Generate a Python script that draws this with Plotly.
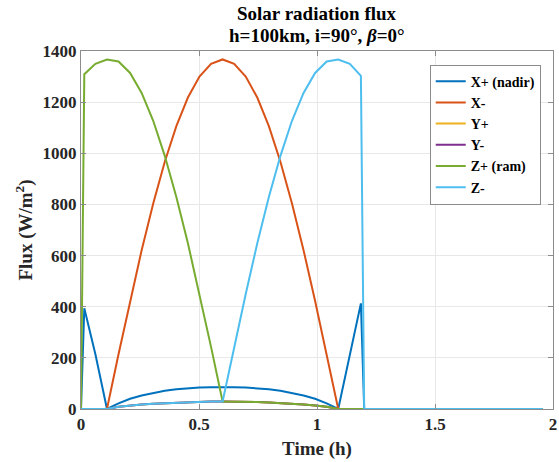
import plotly.graph_objects as go

# Time samples (h)
time_h = [0.0, 0.014, 0.061, 0.11, 0.159, 0.208, 0.257, 0.306, 0.355, 0.404,
          0.453, 0.502, 0.551, 0.6, 0.649, 0.698, 0.747, 0.796, 0.845, 0.894,
          0.943, 0.992, 1.041, 1.09, 1.139, 1.186, 1.2, 1.957]

# Flux values (W/m^2) per face
x_plus = [0, 394, 214, 0, 22, 40, 53, 63, 71, 77, 81, 84, 85, 86, 85, 84, 81, 77,
          71, 63, 53, 40, 22, 0, 214, 413, 0, 0]
x_minus = [0, 0, 0, 0, 214, 422, 621, 804, 967, 1106, 1218, 1300, 1350, 1367, 1350,
           1300, 1218, 1106, 967, 804, 621, 422, 214, 0, 0, 0, 0, 0]
y_plus = [0, 0, 0, 0, 9, 14, 18, 21, 23, 25, 27, 28, 29, 29, 29, 28, 27, 25, 23, 21,
          18, 14, 9, 0, 0, 0, 0, 0]
y_minus = [0, 0, 0, 0, 9, 14, 18, 21, 23, 25, 27, 28, 29, 29, 29, 28, 27, 25, 23, 21,
           18, 14, 9, 0, 0, 0, 0, 0]
z_plus = [0, 1309, 1350, 1367, 1359, 1314, 1236, 1127, 990, 829, 648, 450, 243, 29,
          29, 28, 27, 25, 23, 21, 18, 14, 9, 0, 0, 0, 0, 0]
z_minus = [0, 0, 0, 0, 9, 14, 18, 21, 23, 25, 27, 28, 29, 29, 243, 450, 648, 829, 990,
           1127, 1236, 1314, 1359, 1367, 1350, 1303, 0, 0]

series_names = ["X+ (nadir)", "X-", "Y+", "Y-", "Z+ (ram)", "Z-"]
series_values = [x_plus, x_minus, y_plus, y_minus, z_plus, z_minus]
series_colors = ["#0072BD", "#D95319", "#EDB120", "#7E2F8E", "#77AC30", "#4DBEEE"]

x_ticks = [0, 0.5, 1, 1.5, 2]
x_tick_labels = ["0", "0.5", "1", "1.5", "2"]
y_ticks = [0, 200, 400, 600, 800, 1000, 1200, 1400]

title_lines = ["Solar radiation flux", "h=100km, i=90°, <i>β</i>=0°"]

FONT = "Liberation Serif"

fig = go.Figure()
for name, vals, col in zip(series_names, series_values, series_colors):
    fig.add_trace(go.Scatter(x=time_h, y=vals, mode="lines", name=name,
                             line=dict(color=col, width=2)))

axis_common = dict(
    showline=True, linecolor="#8c8c8c", linewidth=1, mirror="ticks",
    ticks="inside", ticklen=5, tickcolor="#8c8c8c",
    showgrid=True, gridcolor="#e8e8e8", gridwidth=1, zeroline=False,
    automargin=False,
    tickfont=dict(family=FONT, size=17, color="#262626", weight="bold"),
)

# plot area: px 81..553 horizontally, 51..409 vertically
title_y = [(409 - 14) / 358, (409 - 35) / 358]
for txt, yy in zip(title_lines, title_y):
    fig.add_annotation(text="<b>" + txt + "</b>", xref="paper", yref="paper",
                       x=0.5, y=yy, xanchor="center", yanchor="middle",
                       showarrow=False,
                       font=dict(family=FONT, size=19, color="black"))

fig.update_layout(
    width=559, height=462,
    margin=dict(l=81, r=6, t=51, b=53, autoexpand=False),
    paper_bgcolor="white", plot_bgcolor="white",
    xaxis=dict(
        range=[0, 2], tickvals=x_ticks, ticktext=x_tick_labels,
        title=dict(text="Time (h)", standoff=8,
                   font=dict(family=FONT, size=19, color="#262626", weight="bold")),
        **axis_common,
    ),
    yaxis=dict(
        range=[0, 1400], tickvals=y_ticks,
        title=dict(text="Flux (W/m<sup>2</sup>)", standoff=4,
                   font=dict(family=FONT, size=19, color="#262626", weight="bold")),
        **axis_common,
    ),
    legend=dict(
        x=0.974, xanchor="right", y=0.962, yanchor="top",
        bgcolor="white", bordercolor="#8c8c8c", borderwidth=1,
        font=dict(family=FONT, size=14, color="black", weight="bold"),
        itemwidth=30, tracegroupgap=0,
    ),
    showlegend=True,
)

fig.write_html("out.html", config={"displayModeBar": False},
               post_script="document.body.style.margin='0px';")
